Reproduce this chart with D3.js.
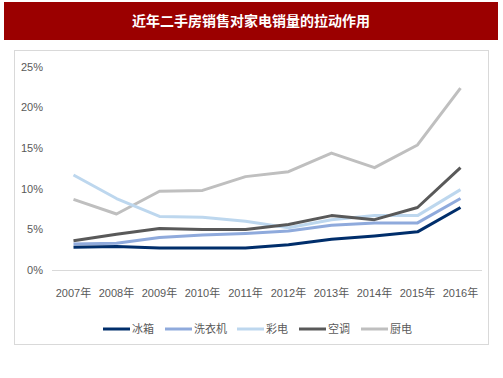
<!DOCTYPE html>
<html>
<head>
<meta charset="utf-8">
<script src="https://cdn.jsdelivr.net/npm/d3@7"></script>
<style>
  body { margin: 0; background: #fff; }
  svg { display: block; font-family: "Liberation Sans", "Noto Sans CJK SC", sans-serif; }
</style>
</head>
<body>
<div id="chart"></div>
<script>
var years = ["2007年", "2008年", "2009年", "2010年", "2011年", "2012年", "2013年", "2014年", "2015年", "2016年"];
var seriesNames = ["冰箱", "洗衣机", "彩电", "空调", "厨电"];
var fridge  = [2.8, 2.9, 2.7, 2.7, 2.7, 3.1, 3.8, 4.2, 4.7, 7.7];
var washer  = [3.2, 3.3, 4.0, 4.3, 4.5, 4.8, 5.5, 5.8, 5.8, 8.8];
var tv      = [11.7, 8.8, 6.6, 6.5, 6.0, 5.2, 6.2, 6.7, 6.7, 9.9];
var aircon  = [3.6, 4.4, 5.1, 5.0, 5.0, 5.6, 6.7, 6.2, 7.7, 12.6];
var kitchen = [8.7, 6.9, 9.7, 9.8, 11.5, 12.1, 14.4, 12.6, 15.4, 22.4];
var yTicks = [0, 5, 10, 15, 20, 25];

var colors = ["#002e6b", "#8faadc", "#bdd7ee", "#595959", "#bfbfbf"];
var allSeries = [fridge, washer, tv, aircon, kitchen];

var width = 503, height = 378;
var svg = d3.select("#chart").append("svg")
    .attr("width", width)
    .attr("height", height);

// title bar
svg.append("rect")
    .attr("x", 4).attr("y", 2)
    .attr("width", 494).attr("height", 38)
    .attr("fill", "#9b0000");
svg.append("text")
    .attr("x", 251).attr("y", 21)
    .attr("dy", "0.35em")
    .attr("text-anchor", "middle")
    .attr("fill", "#fff")
    .attr("font-family", "Noto Sans CJK SC")
    .attr("font-size", 14)
    .attr("font-weight", "bold")
    .text("近年二手房销售对家电销量的拉动作用");

// chart frame
svg.append("rect")
    .attr("x", 14.5).attr("y", 50.5)
    .attr("width", 474).attr("height", 294)
    .attr("fill", "none")
    .attr("stroke", "#d9d9d9");

var margin = {left: 52, right: 21};
var x = d3.scaleBand()
    .domain(years)
    .range([margin.left, width - margin.right]);
var y = d3.scaleLinear()
    .domain([0, 25])
    .range([270, 67]);

// y axis labels
svg.append("g")
    .selectAll("text")
    .data(yTicks)
    .enter().append("text")
      .attr("x", 43)
      .attr("y", function(d) { return y(d); })
      .attr("dy", "0.35em")
      .attr("text-anchor", "end")
      .attr("fill", "#595959")
      .attr("font-size", 11)
      .text(function(d) { return d + "%"; });

// x axis line
svg.append("line")
    .attr("x1", margin.left).attr("x2", width - margin.right)
    .attr("y1", y(0) + 0.5).attr("y2", y(0) + 0.5)
    .attr("stroke", "#d9d9d9")
    .attr("stroke-width", 1);

svg.append("g")
    .selectAll("text")
    .data(years)
    .enter().append("text")
      .attr("x", function(d) { return x(d) + x.bandwidth() / 2; })
      .attr("y", 293)
      .attr("dy", "0.35em")
      .attr("text-anchor", "middle")
      .attr("fill", "#595959")
      .attr("font-size", 11)
      .text(function(d) { return d; });

// lines
var line = d3.line()
    .x(function(d, i) { return x(years[i]) + x.bandwidth() / 2; })
    .y(function(d) { return y(d); });

var drawOrder = [4, 2, 3, 1, 0];
drawOrder.forEach(function(k) {
  svg.append("path")
    .datum(allSeries[k])
    .attr("d", line)
    .attr("fill", "none")
    .attr("stroke", colors[k])
    .attr("stroke-width", 3)
    .attr("stroke-linejoin", "round");
});

// legend
var legendX = [103, 165, 237, 299, 361];
var legend = svg.append("g")
  .selectAll("g")
  .data(seriesNames)
  .enter().append("g")
    .attr("transform", function(d, i) { return "translate(" + legendX[i] + ",329)"; });
legend.append("line")
    .attr("x1", 0).attr("x2", 27)
    .attr("stroke", function(d, i) { return colors[i]; })
    .attr("stroke-width", 3);
legend.append("text")
    .attr("x", 29)
    .attr("dy", "0.35em")
    .attr("fill", "#595959")
    .attr("font-size", 11)
    .text(function(d) { return d; });
</script>
</body>
</html>
